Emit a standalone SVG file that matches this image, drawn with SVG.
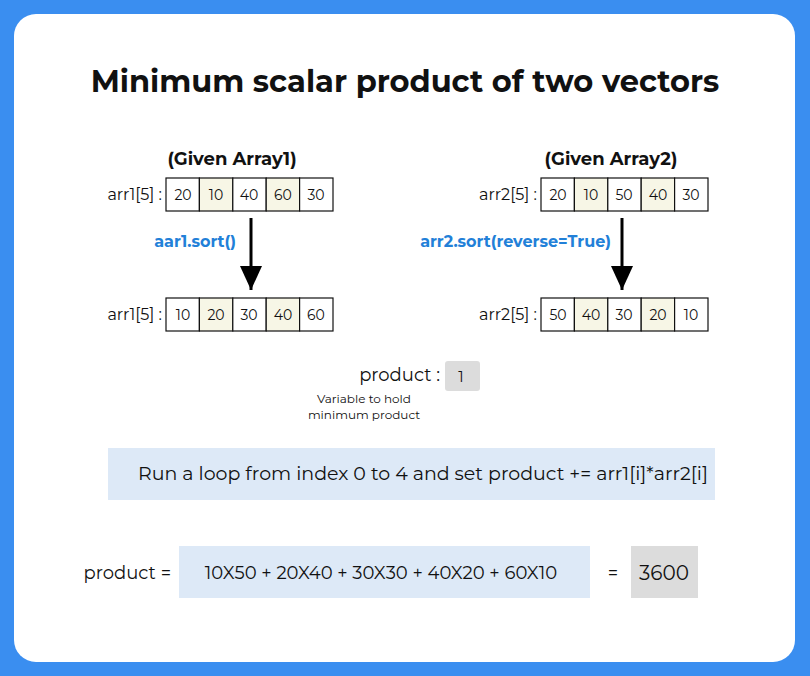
<svg xmlns="http://www.w3.org/2000/svg" width="810" height="676" viewBox="0 0 810 676">
<style>
text{font-family:Montserrat,"Noto Sans","Liberation Sans",sans-serif;fill:#111}
.c{fill:#fff;stroke:#111;stroke-width:1.2}
.y{fill:#f7f6e6;stroke:#111;stroke-width:1.2}
.v{font-size:14px;text-anchor:middle}
.l{font-size:16px;text-anchor:end}
.b{fill:#2280d8;font-size:16px;font-weight:bold;text-anchor:end}
</style>
<defs><marker id="ah" markerWidth="26" markerHeight="22" refX="24" refY="11" orient="auto" markerUnits="userSpaceOnUse"><path d="M0,0 L24,11 L0,22 Z" fill="#000"/></marker></defs>
<rect width="810" height="676" fill="#3a8ef0"/>
<rect x="14" y="14" width="781" height="648" rx="22" fill="#fff"/>
<text x="405" y="92" font-size="30.5" font-weight="bold" text-anchor="middle">Minimum scalar product of two vectors</text>
<g id="a1">
<text x="232" y="165" font-size="18" font-weight="bold" text-anchor="middle">(Given Array1)</text>
<text class="l" x="162" y="200">arr1[5] :</text>
<rect class="c" x="166" y="178" width="33.4" height="33"/><rect class="y" x="199.4" y="178" width="33.4" height="33"/><rect class="c" x="232.8" y="178" width="33.4" height="33"/><rect class="y" x="266.2" y="178" width="33.4" height="33"/><rect class="c" x="299.6" y="178" width="33.4" height="33"/>
<text class="v" x="183" y="200">20</text><text class="v" x="216" y="200">10</text><text class="v" x="249" y="200">40</text><text class="v" x="283" y="200">60</text><text class="v" x="316" y="200">30</text>
</g>
<g id="a1s">
<text class="l" x="162" y="320">arr1[5] :</text>
<rect class="c" x="166" y="298" width="33.4" height="33"/><rect class="y" x="199.4" y="298" width="33.4" height="33"/><rect class="c" x="232.8" y="298" width="33.4" height="33"/><rect class="y" x="266.2" y="298" width="33.4" height="33"/><rect class="c" x="299.6" y="298" width="33.4" height="33"/>
<text class="v" x="183" y="320">10</text><text class="v" x="216" y="320">20</text><text class="v" x="249" y="320">30</text><text class="v" x="283" y="320">40</text><text class="v" x="316" y="320">60</text>
</g>
<g id="a2">
<text x="611" y="165" font-size="18" font-weight="bold" text-anchor="middle">(Given Array2)</text>
<text class="l" x="537" y="200">arr2[5] :</text>
<rect class="c" x="541" y="178" width="33.4" height="33"/><rect class="y" x="574.4" y="178" width="33.4" height="33"/><rect class="c" x="607.8" y="178" width="33.4" height="33"/><rect class="y" x="641.2" y="178" width="33.4" height="33"/><rect class="c" x="674.6" y="178" width="33.4" height="33"/>
<text class="v" x="558" y="200">20</text><text class="v" x="591" y="200">10</text><text class="v" x="624" y="200">50</text><text class="v" x="658" y="200">40</text><text class="v" x="691" y="200">30</text>
</g>
<g id="a2s">
<text class="l" x="537" y="320">arr2[5] :</text>
<rect class="c" x="541" y="298" width="33.4" height="33"/><rect class="y" x="574.4" y="298" width="33.4" height="33"/><rect class="c" x="607.8" y="298" width="33.4" height="33"/><rect class="y" x="641.2" y="298" width="33.4" height="33"/><rect class="c" x="674.6" y="298" width="33.4" height="33"/>
<text class="v" x="558" y="320">50</text><text class="v" x="591" y="320">40</text><text class="v" x="624" y="320">30</text><text class="v" x="658" y="320">20</text><text class="v" x="691" y="320">10</text>
</g>
<g id="connectors">
<line x1="251" y1="218" x2="251" y2="290" stroke="#000" stroke-width="3" marker-end="url(#ah)"/>
<line x1="622" y1="218" x2="622" y2="290" stroke="#000" stroke-width="3" marker-end="url(#ah)"/>
</g>
<text class="b" x="236" y="247">aar1.sort()</text>
<text class="b" x="611" y="247">arr2.sort(reverse=True)</text>
<g id="prod">
<text x="440" y="381" font-size="18" text-anchor="end">product :</text>
<rect x="445" y="361" width="35" height="30" rx="3" fill="#dcdcdc"/>
<text x="461" y="382" font-size="15" text-anchor="middle">1</text>
<text x="364" y="403" font-size="12" text-anchor="middle">Variable to hold</text>
<text x="364" y="419" font-size="12" text-anchor="middle">minimum product</text>
</g>
<g id="loop">
<rect x="108" y="448" width="607" height="52" fill="#dde9f7"/>
<text x="423" y="480" font-size="19" text-anchor="middle">Run a loop from index 0 to 4 and set product += arr1[i]*arr2[i]</text>
</g>
<g id="res">
<text x="171" y="579" font-size="18" text-anchor="end">product =</text>
<rect x="179" y="546" width="411" height="52" fill="#dde9f7"/>
<text x="381" y="579" font-size="18" text-anchor="middle">10X50 + 20X40 + 30X30 + 40X20 + 60X10</text>
<text x="613" y="579" font-size="18" text-anchor="middle">=</text>
<rect x="631" y="546" width="67" height="52" fill="#dcdcdc"/>
<text x="664" y="580" font-size="20" text-anchor="middle">3600</text>
</g>
</svg>
